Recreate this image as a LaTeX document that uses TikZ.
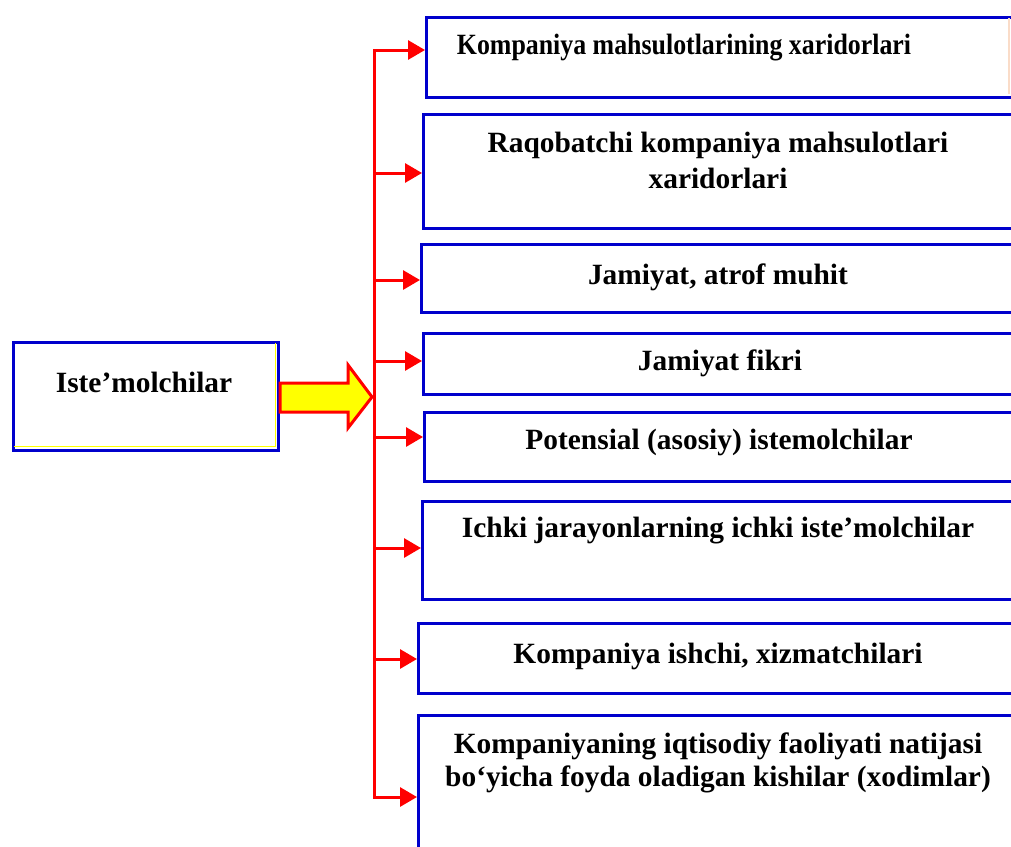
\documentclass[tikz,border=0pt]{standalone}
\usepackage{fontspec}
\usepackage{graphicx}
\setmainfont{Liberation Serif}
\usetikzlibrary{arrows.meta}
\definecolor{boxblue}{RGB}{0,0,204}
\definecolor{linkred}{RGB}{255,0,0}
\definecolor{arrowyellow}{RGB}{255,255,0}
\definecolor{edgepeach}{RGB}{250,220,200}
\tikzset{
  itembox/.style={draw=boxblue, line width=3pt, fill=white, inner sep=0pt},
  label/.style={font=\bfseries\fontsize{29.4}{33}\selectfont, align=center, inner sep=0pt, text=black},
  branch/.style={draw=linkred, line width=3pt, -{Triangle[length=17pt,width=19pt]}},
  trunkline/.style={draw=linkred, line width=3pt}
}
\begin{document}
\begin{tikzpicture}[x=1pt,y=-1pt]
\useasboundingbox (0,0) rectangle (1011,846);
\clip (0,0) rectangle (1011,846);
\fill[white] (0,0) rectangle (1011,846);

% source box
\node[itembox, anchor=north west, minimum width=265pt, minimum height=108pt] (src) at (12,341) {};
\draw[arrowyellow, line width=1.2pt] (14,446.5) -- (275.5,446.5) -- (275.5,343);
\node[label] (srct) at (144,382) {Iste’molchilar};

% target boxes
\node[itembox, anchor=north west, minimum width=600pt, minimum height=80pt] (b1) at (425,16) {};
\draw[edgepeach, line width=1.5pt] (1009,18) -- (1009,94);
\node[itembox, anchor=north west, minimum width=600pt, minimum height=114pt] (b2) at (422,113) {};
\node[itembox, anchor=north west, minimum width=600pt, minimum height=68pt] (b3) at (420,243) {};
\node[itembox, anchor=north west, minimum width=600pt, minimum height=61pt] (b4) at (422,332) {};
\node[itembox, anchor=north west, minimum width=600pt, minimum height=69pt] (b5) at (423,411) {};
\node[itembox, anchor=north west, minimum width=600pt, minimum height=98pt] (b6) at (421,500) {};
\node[itembox, anchor=north west, minimum width=600pt, minimum height=70pt] (b7) at (417,622) {};
\node[itembox, anchor=north west, minimum width=600pt, minimum height=166pt] (b8) at (417,714) {};

% labels
\node[label] (t1) at (684,48) {\scalebox{0.88}[1]{Kompaniya mahsulotlarining xaridorlari}};
\node[label] (t2) at (718,160) {Raqobatchi kompaniya mahsulotlari\\[3pt]xaridorlari};
\node[label] (t3) at (718,277) {Jamiyat, atrof muhit};
\node[label] (t4) at (720,363) {Jamiyat fikri};
\node[label] (t5) at (719,442) {Potensial (asosiy) istemolchilar};
\node[label] (t6) at (718,531) {Ichki jarayonlarning ichki iste’molchilar};
\node[label] (t7) at (718,656) {Kompaniya ishchi, xizmatchilari};
\node[label] (t8) at (718,763) {Kompaniyaning iqtisodiy faoliyati natijasi\\bo‘yicha foyda oladigan kishilar (xodimlar)};

% red distribution trunk
\coordinate (k1) at (374,50);
\coordinate (k2) at (374,173);
\coordinate (k3) at (374,280);
\coordinate (k4) at (374,361);
\coordinate (k5) at (374,437);
\coordinate (k6) at (374,548);
\coordinate (k7) at (374,659);
\coordinate (k8) at (374,797);
\coordinate (hub) at (372,397);
\draw[trunkline, line join=miter] (k1) ++(15,0) -- (k1) -- (k8) -- ++(15,0);
\foreach \i in {1,...,8} {
  \draw[branch] (k\i) -- (k\i -| b\i.west);
}

% broad arrow from the source box to the trunk
\draw[linkred, fill=arrowyellow, line width=3pt, line join=miter]
  (src.east |- 0,383) -- (348,383) -- (348,365) -- (hub) -- (348,428) -- (348,412) -- (src.east |- 0,412) -- cycle;
\end{tikzpicture}
\end{document}
